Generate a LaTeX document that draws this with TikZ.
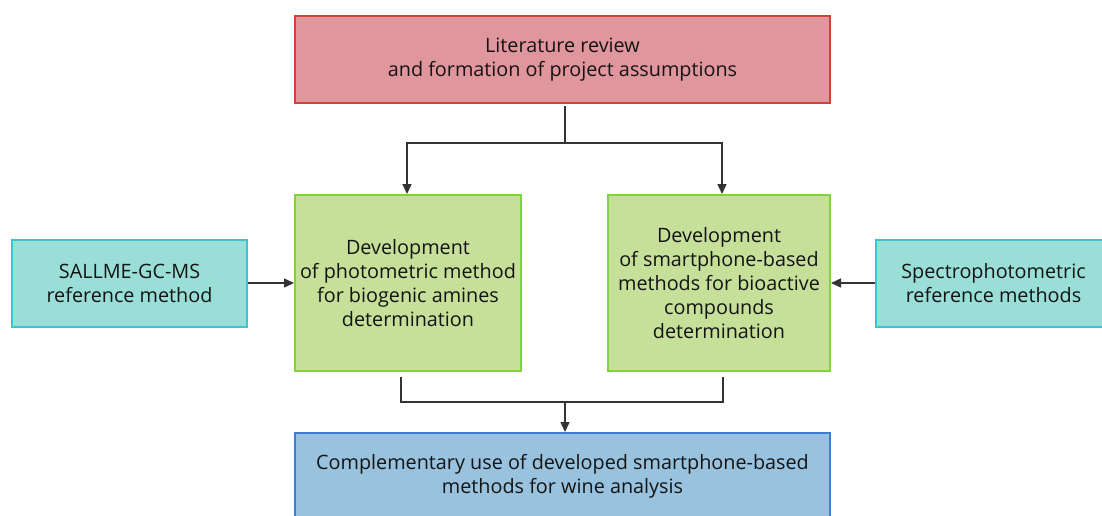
\documentclass[tikz,border=0pt]{standalone}
\usepackage{fontspec}
\setmainfont{Open Sans}
\usetikzlibrary{arrows.meta}

\definecolor{redfill}{HTML}{E0969D}
\definecolor{redline}{HTML}{D43F3A}
\definecolor{greenfill}{HTML}{C6DF99}
\definecolor{greenline}{HTML}{7DD43C}
\definecolor{cyanfill}{HTML}{99DFD7}
\definecolor{cyanline}{HTML}{3FC3D0}
\definecolor{bluefill}{HTML}{98C2DE}
\definecolor{blueline}{HTML}{3D7DD2}
\definecolor{linkgray}{HTML}{333333}

\tikzset{
  box/.style={draw, line width=2pt, align=center, inner sep=0pt,
    font=\fontsize{19.8}{24}\selectfont, text=black!92},
  redbox/.style={box, fill=redfill, draw=redline},
  greenbox/.style={box, fill=greenfill, draw=greenline},
  cyanbox/.style={box, fill=cyanfill, draw=cyanline},
  bluebox/.style={box, fill=bluefill, draw=blueline},
  link/.style={draw=linkgray, line width=1.5pt},
  linkarrow/.style={link, -{Triangle[length=10pt,width=9pt]}}
}

\begin{document}
\begin{tikzpicture}[x=1pt,y=-1pt]
  %%%%% frame %%%%%
  \useasboundingbox (0,0) rectangle (1102,515);
  \clip (0,0) rectangle (1102,515);

  \node[redbox, minimum width=535pt, minimum height=87pt] (review) at (562.5,59.5)
    {Literature review\\and formation of project assumptions};

  \node[greenbox, minimum width=226pt, minimum height=176pt] (photo) at (408,283)
    {Development\\of photometric method\\for biogenic amines\\determination};
  \node[greenbox, minimum width=222pt, minimum height=176pt] (phone) at (719,283)
    {Development\\of smartphone-based\\methods for bioactive\\compounds\\determination};

  \node[cyanbox, minimum width=235pt, minimum height=87pt] (gcms) at (129.5,283)
    {SALLME-GC-MS\\reference method};
  \node[cyanbox, minimum width=235pt, minimum height=87pt] (spectro) at (993.5,283)
    {Spectrophotometric\\reference methods};

  \node[bluebox, minimum width=535pt, minimum height=87pt] (wine) at (562.5,476.5)
    {Complementary use of developed smartphone-based\\methods for wine analysis};

  %%%%% links %%%%%
  \coordinate (split) at (565,143);
  \coordinate (merge) at (565,402);

  \draw[link] ([xshift=2.5pt,yshift=-2pt]review.south) -- (split);
  \draw[linkarrow] (split) -| ([xshift=-1pt]photo.north);
  \draw[linkarrow] (split) -| ([xshift=3pt]phone.north);

  \draw[link] ([xshift=-7pt,yshift=-5pt]photo.south) |- (merge)
    -| ([xshift=4pt,yshift=-5pt]phone.south);
  \draw[linkarrow] (merge) -- (merge |- wine.north);

  \draw[linkarrow] (gcms.east) -- (photo.west);
  \draw[linkarrow] (spectro.west) -- (phone.east);
\end{tikzpicture}
\end{document}
